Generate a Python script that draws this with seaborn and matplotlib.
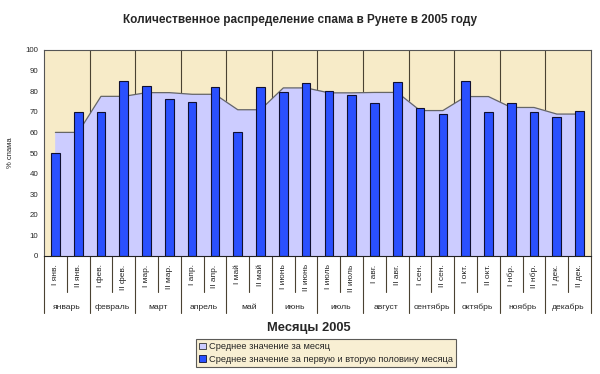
import numpy as np
import matplotlib
matplotlib.use('Agg')
import matplotlib.pyplot as plt
import matplotlib.transforms as mtransforms
from matplotlib.patches import Patch
import seaborn as sns

# Data
months = ['январь', 'февраль', 'март', 'апрель', 'май', 'июнь',
          'июль', 'август', 'сентябрь', 'октябрь', 'ноябрь', 'декабрь']
half_labels = ['I янв.', 'II янв.', 'I фев.', 'II фев.', 'I мар.', 'II мар.',
               'I апр.', 'II апр.', 'I май', 'II май', 'I июнь', 'II июнь',
               'I июль', 'II июль', 'I авг.', 'II авг.', 'I сен.', 'II сен.',
               'I окт.', 'II окт.', 'I нбр.', 'II нбр.', 'I дек.', 'II дек.']
half_values = [50, 70, 70, 85, 82.5, 76, 75, 82, 60, 82, 79.5, 84,
               80, 78.3, 74.4, 84.5, 72, 69, 85, 69.8, 74.4, 69.8, 67.4, 70.3]
month_values = [60, 77.5, 79.3, 78.5, 71, 81.6, 79.2, 79.4, 70.6, 77.4, 72.1, 68.9]

bg = '#f7ebc8'
area_col = '#ccccff'
bar_col = '#2a50ff'
line_col = '#4a4232'

sns.set_style('white')
plt.rcParams['font.family'] = ['Liberation Sans', 'DejaVu Sans']

fig = plt.figure(figsize=(6, 3.74), dpi=100)
ax = fig.add_axes([44 / 600, 1 - 256 / 374, 547 / 600, 206 / 374])
ax.set_facecolor(bg)

x = np.arange(len(half_labels))

# month boundary gridlines (behind the area)
for b in range(1, len(months)):
    ax.axvline(2 * b - 0.5, color=line_col, lw=0.8, zorder=0)

# monthly average as a stepped area (each month spans its two halves)
area_y = np.repeat(month_values, 2)
ax.fill_between(x, area_y, color=area_col, zorder=1)
ax.plot(x, area_y, color='#666666', lw=0.9, zorder=1.5)

sns.barplot(x=half_labels, y=half_values, color=bar_col, width=0.38,
            edgecolor='#101030', linewidth=0.8, saturation=1, ax=ax, zorder=2)

ax.set_xlim(-0.5, len(half_labels) - 0.5)
ax.set_ylim(0, 100)
ax.set_yticks(range(0, 101, 10))
ax.tick_params(axis='y', labelsize=5.7, length=2, pad=2, width=0.6)
ax.set_xticks(x)
ax.set_xticklabels(half_labels, rotation=90, fontsize=6)
ax.tick_params(axis='x', length=0, pad=6)
ax.set_xlabel('')
ax.set_ylabel('% спама', fontsize=5.5, labelpad=8)

for s in ax.spines.values():
    s.set_color('#555555')
    s.set_linewidth(0.8)
ax.spines['bottom'].set_color('#222222')

# two-level category axis below the plot
trans = mtransforms.blended_transform_factory(ax.transData, ax.transAxes)
for m in range(len(months)):
    ax.plot([2 * m + 0.5, 2 * m + 0.5], [0, -0.175], color=line_col, lw=0.8,
            transform=trans, clip_on=False)
    ax.text(2 * m + 0.5, -0.248, months[m], transform=trans, ha='center',
            va='center', fontsize=6.1)
for m in range(len(months) + 1):
    ax.plot([2 * m - 0.5, 2 * m - 0.5], [0, -0.277], color=line_col, lw=0.8,
            transform=trans, clip_on=False)

fig.text(0.5, 1 - 20 / 374, 'Количественное распределение спама в Рунете в 2005 году',
         ha='center', va='center', fontsize=8.5, fontweight='bold')
fig.text(309 / 600, 1 - 328 / 374, 'Месяцы 2005', ha='center', va='center',
         fontsize=9.3, fontweight='bold')

handles = [Patch(facecolor=area_col, edgecolor='#333333', lw=0.6),
           Patch(facecolor=bar_col, edgecolor='#101030', lw=0.6)]
leg = fig.legend(handles, ['Среднее значение за месяц',
                           'Среднее значение за первую и вторую половину месяца'],
                 loc='upper left', bbox_to_anchor=(196 / 600, 1 - 339 / 374),
                 fontsize=6.7, frameon=True, fancybox=False,
                 handlelength=0.7, handleheight=0.7, handletextpad=0.3,
                 labelspacing=0.35, borderpad=0.35, borderaxespad=0)
leg.get_frame().set_facecolor(bg)
leg.get_frame().set_edgecolor('#333333')
leg.get_frame().set_linewidth(0.8)

fig.savefig('out.png', dpi=100, facecolor='white')
